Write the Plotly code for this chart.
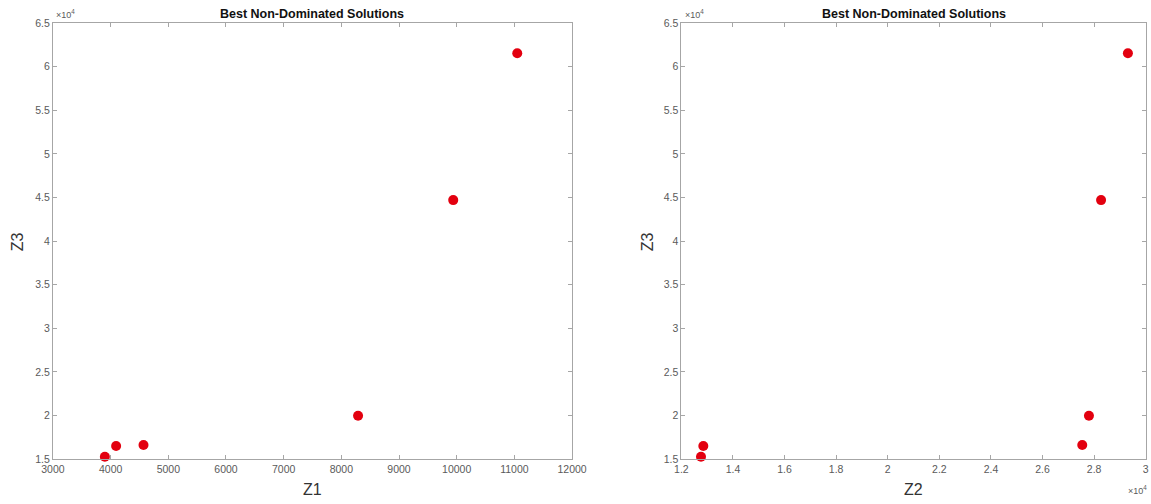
import plotly.graph_objects as go

# Data
z1 = [3900, 4095, 4570, 8290, 9940, 11050]
z2 = [12760, 12850, 27540, 27800, 28270, 29310]
z3 = [15260, 16490, 16600, 19960, 44700, 61560]

x1_ticks = [3000, 4000, 5000, 6000, 7000, 8000, 9000, 10000, 11000, 12000]
x1_text = ["3000", "4000", "5000", "6000", "7000", "8000", "9000", "10000", "11000", "12000"]
x2_ticks = [12000, 14000, 16000, 18000, 20000, 22000, 24000, 26000, 28000, 30000]
x2_text = ["1.2", "1.4", "1.6", "1.8", "2", "2.2", "2.4", "2.6", "2.8", "3"]
y_ticks = [15000, 20000, 25000, 30000, 35000, 40000, 45000, 50000, 55000, 60000, 65000]
y_text = ["1.5", "2", "2.5", "3", "3.5", "4", "4.5", "5", "5.5", "6", "6.5"]

title_text = "Best Non-Dominated Solutions"
FONT = "Liberation Sans, Arial, sans-serif"
AXC = "#a6a6a6"
TXC = "#5a5a5a"
RED = "#e3000f"

fig = go.Figure()
fig.add_trace(go.Scatter(x=z1, y=z3, mode="markers", xaxis="x", yaxis="y", cliponaxis=False,
                         marker=dict(size=10, color=RED), showlegend=False))
fig.add_trace(go.Scatter(x=z2, y=z3, mode="markers", xaxis="x2", yaxis="y2", cliponaxis=False,
                         marker=dict(size=10, color=RED), showlegend=False))

ax_common = dict(showline=True, linecolor=AXC, linewidth=1, mirror="ticks",
                 ticks="inside", ticklen=4, tickcolor=AXC, showgrid=False,
                 zeroline=False, automargin=False,
                 tickfont=dict(family=FONT, size=10.5, color=TXC))

yd = [0.0893, 0.954]
fig.update_layout(
    width=1151, height=504,
    margin=dict(l=0, r=0, t=0, b=0, pad=0),
    paper_bgcolor="white", plot_bgcolor="white",
    xaxis=dict(domain=[0.046, 0.497], range=[3000, 12000], tickvals=x1_ticks,
               ticktext=x1_text, anchor="y", **ax_common),
    yaxis=dict(domain=yd, range=[15000, 65000], tickvals=y_ticks,
               ticktext=y_text, anchor="x", **ax_common),
    xaxis2=dict(domain=[0.592, 0.9954], range=[12000, 30000], tickvals=x2_ticks,
                ticktext=x2_text, anchor="y2", **ax_common),
    yaxis2=dict(domain=yd, range=[15000, 65000], tickvals=y_ticks,
                ticktext=y_text, anchor="x2", **ax_common),
)

annots = []
for xc in [(0.046 + 0.497) / 2, (0.592 + 0.9954) / 2]:
    annots.append(dict(x=xc, y=0.972, xref="paper", yref="paper", text="<b>" + title_text + "</b>",
                       showarrow=False, xanchor="center", yanchor="middle",
                       font=dict(family=FONT, size=12.5, color="#111")))
annots += [
    dict(x=0.2715, y=0.028, xref="paper", yref="paper", text="Z1", showarrow=False,
         xanchor="center", yanchor="middle", font=dict(family=FONT, size=16, color="#333")),
    dict(x=0.7937, y=0.028, xref="paper", yref="paper", text="Z2", showarrow=False,
         xanchor="center", yanchor="middle", font=dict(family=FONT, size=16, color="#333")),
    dict(x=0.016, y=0.52, xref="paper", yref="paper", text="Z3", showarrow=False, textangle=-90,
         xanchor="center", yanchor="middle", font=dict(family=FONT, size=16, color="#333")),
    dict(x=0.5625, y=0.52, xref="paper", yref="paper", text="Z3", showarrow=False, textangle=-90,
         xanchor="center", yanchor="middle", font=dict(family=FONT, size=16, color="#333")),
    dict(x=0.047, y=0.956, xref="paper", yref="paper", text="×10<sup>4</sup>", showarrow=False,
         xanchor="left", yanchor="bottom", font=dict(family=FONT, size=9, color=TXC)),
    dict(x=0.593, y=0.956, xref="paper", yref="paper", text="×10<sup>4</sup>", showarrow=False,
         xanchor="left", yanchor="bottom", font=dict(family=FONT, size=9, color=TXC)),
    dict(x=0.998, y=0.012, xref="paper", yref="paper", text="×10<sup>4</sup>", showarrow=False,
         xanchor="right", yanchor="bottom", font=dict(family=FONT, size=9, color=TXC)),
]
fig.update_layout(annotations=annots)

fig.write_html("out.html", config={"displayModeBar": False},
               post_script="document.body.style.margin='0';document.body.style.overflow='hidden';")
